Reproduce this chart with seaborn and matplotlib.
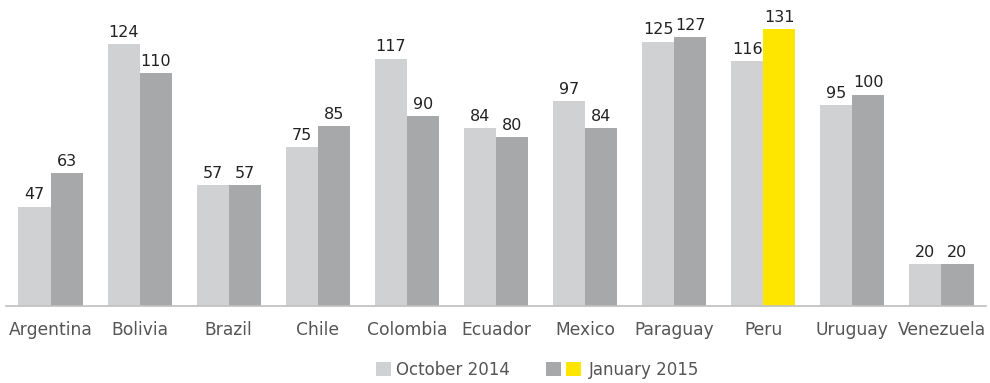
import pandas as pd
import matplotlib.pyplot as plt
import seaborn as sns
from matplotlib.patches import Patch
from matplotlib.legend_handler import HandlerTuple

# Chart data
countries = ["Argentina", "Bolivia", "Brazil", "Chile", "Colombia", "Ecuador",
             "Mexico", "Paraguay", "Peru", "Uruguay", "Venezuela"]
oct_2014 = [47, 124, 57, 75, 117, 84, 97, 125, 116, 95, 20]
jan_2015 = [63, 110, 57, 85, 90, 80, 84, 127, 131, 100, 20]
periods = ["October 2014", "January 2015"]

light_grey = "#d0d1d3"
dark_grey = "#a7a8aa"
yellow = "#ffe600"

df = pd.DataFrame({
    "country": countries * 2,
    "value": oct_2014 + jan_2015,
    "period": [periods[0]] * len(countries) + [periods[1]] * len(countries),
})

sns.set_style("white")
plt.rcParams["font.family"] = ["DejaVu Sans"]

fig = plt.figure(figsize=(9.9, 3.83), dpi=100)
ax = fig.add_axes([6 / 990, 77 / 383, 980 / 990, 306 / 383])

sns.barplot(data=df, x="country", y="value", hue="period", order=countries,
            hue_order=periods, palette=[light_grey, dark_grey], width=0.72,
            gap=0, saturation=1, linewidth=0, legend=False, ax=ax)

# highlight Peru's latest bar
ax.containers[1][countries.index("Peru")].set_facecolor(yellow)

for cont in ax.containers:
    ax.bar_label(cont, fmt="%d", padding=3, fontsize=11.5, color="#222222")

ax.set_xlim(-0.5, len(countries) - 0.5)
ax.set_ylim(0, 144.7)
ax.set_xlabel("")
ax.set_ylabel("")
ax.set_yticks([])
ax.tick_params(axis="x", length=0, pad=11, labelsize=12.3, labelcolor="#555555")
for s in ["top", "right", "left"]:
    ax.spines[s].set_visible(False)
ax.spines["bottom"].set_color("#bfbfbf")
ax.spines["bottom"].set_linewidth(1.2)

# legend: grey square for October, grey + yellow squares for January
h_oct = Patch(facecolor=light_grey, edgecolor="none")
h_jan = (Patch(facecolor=dark_grey, edgecolor="none"),
         Patch(facecolor=yellow, edgecolor="none"))
fig.legend([h_oct], [periods[0]], loc="center", bbox_to_anchor=(0.447, 0.034),
           frameon=False, fontsize=12, labelcolor="#555555",
           handlelength=0.9, handleheight=0.9, handletextpad=0.3)
fig.legend([h_jan], [periods[1]], handler_map={tuple: HandlerTuple(ndivide=None, pad=0.3)},
           loc="center", bbox_to_anchor=(0.629, 0.034), frameon=False,
           fontsize=12, labelcolor="#555555", handlelength=2.1, handleheight=0.9,
           handletextpad=0.5)

fig.savefig("out.png", dpi=100)
